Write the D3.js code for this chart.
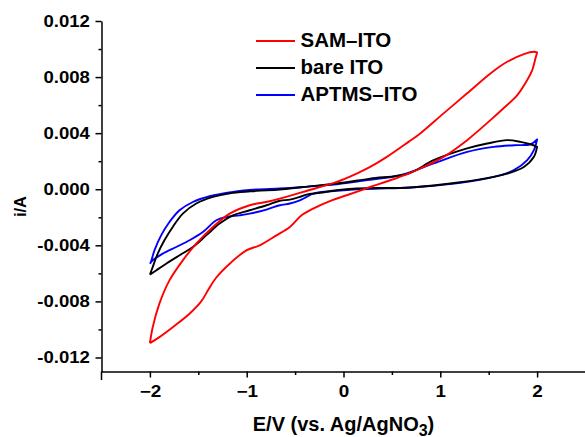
<!DOCTYPE html>
<html>
<head>
<meta charset="utf-8">
<script src="https://cdn.jsdelivr.net/npm/d3@7"></script>
<style>
  body { margin: 0; background: #fff; }
  svg { display: block; font-family: "Liberation Sans", Arial, sans-serif; font-weight: bold; }
  .axis path, .axis line { stroke: #000; stroke-width: 1.5px; }
  .axis text { font-size: 16px; font-weight: bold; fill: #000; }
  .cv-loop { fill: none; stroke-width: 1.9px; stroke-linejoin: round; }
</style>
</head>
<body>
<div id="chart"></div>
<script>
// scan branches as [E (V), i (A)]
const samLower = [[-2.0,-0.01098],[-1.902,-0.01055],[-1.764,-0.00984],[-1.591,-0.00888],[-1.470,-0.00800],
  [-1.395,-0.00715],[-1.320,-0.00635],[-1.176,-0.00531],[-1.003,-0.00436],[-0.865,-0.0040],[-0.692,-0.00329],
  [-0.554,-0.00269],[-0.433,-0.00186],[-0.313,-0.00138],[-0.122,-0.00079],[0.033,-0.00043],[0.275,0.00016],
  [0.482,0.00064],[0.672,0.00112],[0.793,0.00148],[1.034,0.00231],[1.277,0.0035],[1.518,0.00493],
  [1.656,0.00579],[1.795,0.00671],[1.898,0.00779],[1.950,0.0085],[1.984,0.00936],[2.0,0.00976]];
const samUpper = [[-2.0,-0.01098],[-1.971,-0.00984],[-1.902,-0.00816],[-1.798,-0.0065],[-1.660,-0.00507],
  [-1.521,-0.00388],[-1.349,-0.00269],[-1.176,-0.00174],[-0.969,-0.00114],[-0.762,-0.00086],[-0.417,-0.00019],
  [-0.070,0.00052],[0.137,0.00112],[0.275,0.00159],[0.448,0.00231],[0.672,0.00338],[0.793,0.00398],
  [1.034,0.00541],[1.277,0.00684],[1.518,0.00826],[1.691,0.00909],[1.863,0.00964],[1.967,0.00981],[2.0,0.00976]];

const bareLower = [[-2.0,-0.00609],[-1.936,-0.00579],[-1.832,-0.00531],[-1.694,-0.00471],[-1.556,-0.00412],
  [-1.418,-0.00329],[-1.280,-0.00245],[-1.142,-0.00186],[-0.969,-0.0015],[-0.796,-0.00114],[-0.658,-0.00082],
  [-0.554,-0.00074],[-0.451,-0.00055],[-0.381,-0.00038],[-0.244,-0.00026],[-0.070,-0.00007],[0.137,0.00005],
  [0.378,0.00009],[0.585,0.00009],[0.759,0.00016],[1.104,0.00041],[1.449,0.00076],[1.691,0.00112],
  [1.863,0.00159],[1.967,0.00231],[2.0,0.00302]];
const bareUpper = [[-2.0,-0.00609],[-1.971,-0.00555],[-1.919,-0.00459],[-1.850,-0.00364],[-1.764,-0.00269],
  [-1.660,-0.00174],[-1.521,-0.00102],[-1.349,-0.00055],[-1.142,-0.00026],[-0.899,-0.00012],[-0.658,-0.00002],
  [-0.417,0.00016],[-0.070,0.00041],[0.275,0.00076],[0.672,0.00112],[0.931,0.00207],[1.277,0.00291],
  [1.484,0.00326],[1.691,0.0035],[1.829,0.00338],[1.933,0.00321],[2.0,0.00302]];

const aptmsLower = [[-2.0,-0.00531],[-1.971,-0.00507],[-1.867,-0.00459],[-1.728,-0.00412],[-1.591,-0.00364],
  [-1.453,-0.00305],[-1.314,-0.00221],[-1.210,-0.00198],[-1.073,-0.00186],[-0.969,-0.00174],[-0.796,-0.00145],
  [-0.658,-0.00114],[-0.554,-0.00102],[-0.451,-0.00079],[-0.381,-0.00055],[-0.313,-0.00031],[-0.070,-0.00011],
  [0.137,0.0],[0.378,0.00005],[0.585,0.00009],[0.862,0.00021],[1.207,0.00045],[1.552,0.00088],
  [1.760,0.00136],[1.898,0.00207],[1.967,0.00279],[2.0,0.00355]];
const aptmsUpper = [[-2.0,-0.00531],[-1.990,-0.00519],[-1.953,-0.00436],[-1.884,-0.00329],[-1.798,-0.00234],
  [-1.694,-0.0015],[-1.556,-0.00091],[-1.383,-0.0005],[-1.142,-0.00019],[-0.899,-0.00002],[-0.658,0.00005],
  [-0.417,0.00016],[-0.070,0.00036],[0.275,0.00068],[0.585,0.001],[0.931,0.00184],[1.277,0.00266],
  [1.552,0.00302],[1.760,0.00314],[1.933,0.00321],[2.0,0.00355]];

const seriesNames = ["SAM\u2013ITO", "bare ITO", "APTMS\u2013ITO"];
const seriesColors = ["#ff0000", "#000000", "#0000ff"];

const xTicks = [-2, -1, 0, 1, 2];
const xMinorTicks = [-1.5, -0.5, 0.5, 1.5];
const yTicks = [0.012, 0.008, 0.004, 0.0, -0.004, -0.008, -0.012];
const yMinorTicks = [0.010, 0.006, 0.002, -0.002, -0.006, -0.010];

class CvVis {
  constructor(_parentElement) {
    this.parentElement = _parentElement;
    this.loops = [
      { name: seriesNames[0], color: seriesColors[0], lower: samLower, upper: samUpper },
      { name: seriesNames[1], color: seriesColors[1], lower: bareLower, upper: bareUpper },
      { name: seriesNames[2], color: seriesColors[2], lower: aptmsLower, upper: aptmsUpper }
    ];
    this.initVis();
  }

  initVis() {
    let vis = this;
    vis.width = 585;
    vis.height = 437;

    vis.svg = d3.select("#" + vis.parentElement)
      .append("svg")
      .attr("width", vis.width)
      .attr("height", vis.height);

    vis.x = d3.scaleLinear().domain([-2.5, 2.5]).range([101.5, 585.5]);
    vis.y = d3.scaleLinear().domain([-0.013, 0.012]).range([371.5, 21]);

    // minor ticks first, majors drawn on top
    vis.svg.append("g")
      .attr("class", "axis")
      .attr("transform", "translate(0,371.5)")
      .call(d3.axisBottom(vis.x).tickValues(xMinorTicks).tickSize(3.5).tickFormat(""))
      .select(".domain").remove();
    vis.svg.append("g")
      .attr("class", "axis")
      .attr("transform", "translate(101.5,0)")
      .call(d3.axisLeft(vis.y).tickValues(yMinorTicks).tickSize(3).tickFormat(""))
      .select(".domain").remove();

    vis.xAxis = vis.svg.append("g")
      .attr("class", "axis")
      .attr("transform", "translate(0,371.5)")
      .call(d3.axisBottom(vis.x).tickValues(xTicks).tickSize(6).tickSizeOuter(0).tickPadding(8)
        .tickFormat(d3.format("d")));
    vis.xAxis.selectAll("text").attr("transform", "scale(1.18,1)");

    vis.yAxis = vis.svg.append("g")
      .attr("class", "axis")
      .attr("transform", "translate(101.5,0)")
      .call(d3.axisLeft(vis.y).tickValues(yTicks).tickSize(6).tickSizeOuter(0).tickPadding(4)
        .tickFormat(d => d3.format(".3f")(d).replace("\u2212", "-")));
    vis.yAxis.selectAll("text").attr("transform", "scale(1.16,1)");

    // y axis line runs a bit below the x axis
    vis.svg.append("line")
      .attr("x1", 101.5).attr("x2", 101.5)
      .attr("y1", 371.5).attr("y2", 380)
      .attr("stroke", "#000").attr("stroke-width", 1.5);

    // axis titles
    vis.svg.append("text")
      .attr("transform", "translate(25.5,206.5) rotate(-90)")
      .attr("text-anchor", "middle")
      .style("font-size", "16.5px")
      .text("i/A");

    let xt = vis.svg.append("text")
      .attr("x", 343.5)
      .attr("y", 430.5)
      .attr("text-anchor", "middle")
      .style("font-size", "20px");
    xt.append("tspan").text("E/V (vs. Ag/AgNO");
    xt.append("tspan").attr("dy", 5).style("font-size", "16px").text("3");
    xt.append("tspan").attr("dy", -5).text(")");

    vis.wrangleData();
  }

  wrangleData() {
    let vis = this;
    // closed loop: lower branch out to +2 V, upper branch back to -2 V
    vis.displayData = vis.loops.map(d => ({
      name: d.name,
      color: d.color,
      points: d.lower.concat(d.upper.slice().reverse())
    }));
    vis.updateVis();
  }

  updateVis() {
    let vis = this;

    let line = d3.line()
      .x(d => vis.x(d[0]))
      .y(d => vis.y(d[1]))
      .curve(d3.curveCatmullRom.alpha(0.5));

    vis.svg.selectAll(".cv-loop")
      .data(vis.displayData.slice().reverse())
      .enter()
      .append("path")
      .attr("class", "cv-loop")
      .attr("stroke", d => d.color)
      .attr("d", d => line(d.points));

    // legend
    let legend = vis.svg.selectAll(".legend-item")
      .data(vis.displayData)
      .enter()
      .append("g")
      .attr("class", "legend-item")
      .attr("transform", (d, i) => "translate(256," + (41 + i * 27) + ")");

    legend.append("line")
      .attr("x1", 0).attr("x2", 39)
      .attr("stroke", d => d.color)
      .attr("stroke-width", 1.9);

    legend.append("text")
      .attr("x", 44.5)
      .attr("y", 6)
      .style("font-size", "20.5px")
      .text(d => d.name);
  }
}

new CvVis("chart");
</script>
</body>
</html>
